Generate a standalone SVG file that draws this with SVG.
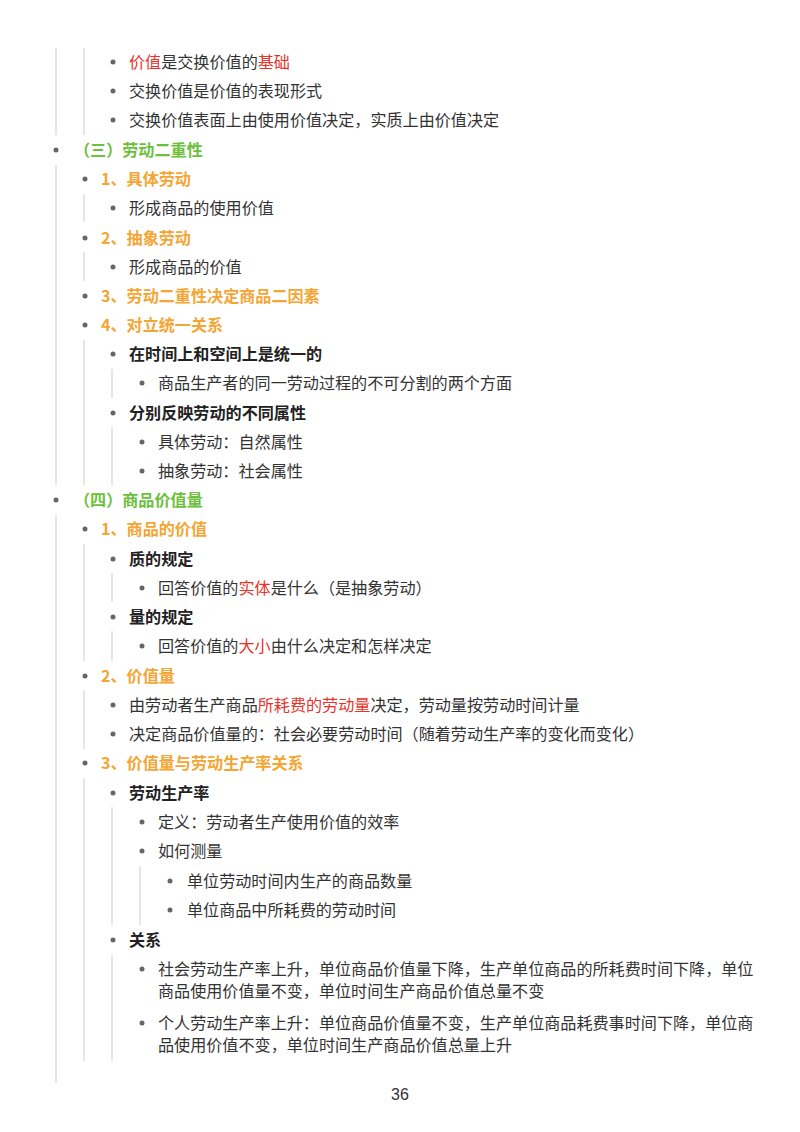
<svg xmlns="http://www.w3.org/2000/svg" width="800" height="1132" viewBox="0 0 800 1132">
<style>
text{font-family:"Noto Sans CJK SC","Liberation Sans",sans-serif;font-size:16.1px;fill:#333}
.g{fill:#6cc03c;font-weight:bold}.o{fill:#f5a533;font-weight:bold}.b{font-weight:bold;fill:#222}.r{fill:#e8332b}
line{stroke:#dedede;stroke-width:1.5}
circle{fill:#666}
</style>
<rect width="800" height="1132" fill="#fff"/>
<g id="connectors">
<line x1="56" y1="48" x2="56" y2="135"/><line x1="84" y1="48" x2="84" y2="135"/>
<line x1="56" y1="165" x2="56" y2="485"/>
<line x1="84" y1="194" x2="84" y2="222"/><line x1="84" y1="252" x2="84" y2="281"/>
<line x1="84" y1="340" x2="84" y2="485"/>
<line x1="112" y1="369" x2="112" y2="398"/><line x1="112" y1="427" x2="112" y2="485"/>
<line x1="56" y1="515" x2="56" y2="1083"/>
<line x1="84" y1="544" x2="84" y2="661"/>
<line x1="112" y1="573" x2="112" y2="602"/><line x1="112" y1="631" x2="112" y2="661"/>
<line x1="84" y1="690" x2="84" y2="749"/><line x1="84" y1="778" x2="84" y2="1061"/>
<line x1="112" y1="807" x2="112" y2="925"/><line x1="140" y1="866" x2="140" y2="925"/>
<line x1="112" y1="955" x2="112" y2="1061"/>
</g>
<g id="n1"><circle cx="113" cy="62" r="2.5"/><text x="129" y="68"><tspan class="r">价值</tspan>是交换价值的<tspan class="r">基础</tspan></text></g>
<g id="n2"><circle cx="113" cy="91" r="2.5"/><text x="129" y="97">交换价值是价值的表现形式</text></g>
<g id="n3"><circle cx="113" cy="120" r="2.5"/><text x="129" y="126">交换价值表面上由使用价值决定，实质上由价值决定</text></g>
<g id="n4"><circle cx="56" cy="150" r="2.5"/><text class="g" x="74" y="156">（三）劳动二重性</text></g>
<g id="n5"><circle cx="85" cy="179" r="2.5"/><text class="o" x="101" y="185">1、具体劳动</text></g>
<g id="n6"><circle cx="113" cy="208" r="2.5"/><text x="129" y="214">形成商品的使用价值</text></g>
<g id="n7"><circle cx="85" cy="238" r="2.5"/><text class="o" x="101" y="244">2、抽象劳动</text></g>
<g id="n8"><circle cx="113" cy="267" r="2.5"/><text x="129" y="273">形成商品的价值</text></g>
<g id="n9"><circle cx="85" cy="296" r="2.5"/><text class="o" x="101" y="302">3、劳动二重性决定商品二因素</text></g>
<g id="n10"><circle cx="85" cy="325" r="2.5"/><text class="o" x="101" y="331">4、对立统一关系</text></g>
<g id="n11"><circle cx="113" cy="354" r="2.5"/><text class="b" x="129" y="360">在时间上和空间上是统一的</text></g>
<g id="n12"><circle cx="142" cy="383" r="2.5"/><text x="158" y="389">商品生产者的同一劳动过程的不可分割的两个方面</text></g>
<g id="n13"><circle cx="113" cy="413" r="2.5"/><text class="b" x="129" y="419">分别反映劳动的不同属性</text></g>
<g id="n14"><circle cx="142" cy="442" r="2.5"/><text x="158" y="448">具体劳动：自然属性</text></g>
<g id="n15"><circle cx="142" cy="471" r="2.5"/><text x="158" y="477">抽象劳动：社会属性</text></g>
<g id="n16"><circle cx="56" cy="500" r="2.5"/><text class="g" x="74" y="506">（四）商品价值量</text></g>
<g id="n17"><circle cx="85" cy="529" r="2.5"/><text class="o" x="101" y="535">1、商品的价值</text></g>
<g id="n18"><circle cx="113" cy="559" r="2.5"/><text class="b" x="129" y="565">质的规定</text></g>
<g id="n19"><circle cx="142" cy="588" r="2.5"/><text x="158" y="594">回答价值的<tspan class="r">实体</tspan>是什么（是抽象劳动）</text></g>
<g id="n20"><circle cx="113" cy="617" r="2.5"/><text class="b" x="129" y="623">量的规定</text></g>
<g id="n21"><circle cx="142" cy="646" r="2.5"/><text x="158" y="652">回答价值的<tspan class="r">大小</tspan>由什么决定和怎样决定</text></g>
<g id="n22"><circle cx="85" cy="676" r="2.5"/><text class="o" x="101" y="682">2、价值量</text></g>
<g id="n23"><circle cx="113" cy="705" r="2.5"/><text x="129" y="711">由劳动者生产商品<tspan class="r">所耗费的劳动量</tspan>决定，劳动量按劳动时间计量</text></g>
<g id="n24"><circle cx="113" cy="734" r="2.5"/><text x="129" y="740">决定商品价值量的：社会必要劳动时间（随着劳动生产率的变化而变化）</text></g>
<g id="n25"><circle cx="85" cy="763" r="2.5"/><text class="o" x="101" y="769">3、价值量与劳动生产率关系</text></g>
<g id="n26"><circle cx="113" cy="793" r="2.5"/><text class="b" x="129" y="799">劳动生产率</text></g>
<g id="n27"><circle cx="142" cy="822" r="2.5"/><text x="158" y="828">定义：劳动者生产使用价值的效率</text></g>
<g id="n28"><circle cx="142" cy="851" r="2.5"/><text x="158" y="857">如何测量</text></g>
<g id="n29"><circle cx="170" cy="881" r="2.5"/><text x="187" y="887">单位劳动时间内生产的商品数量</text></g>
<g id="n30"><circle cx="170" cy="910" r="2.5"/><text x="187" y="916">单位商品中所耗费的劳动时间</text></g>
<g id="n31"><circle cx="113" cy="940" r="2.5"/><text class="b" x="129" y="946">关系</text></g>
<g id="n32"><circle cx="142" cy="969" r="2.5"/><text x="158" y="975">社会劳动生产率上升，单位商品价值量下降，生产单位商品的所耗费时间下降，单位</text><text x="158" y="997">商品使用价值量不变，单位时间生产商品价值总量不变</text></g>
<g id="n33"><circle cx="142" cy="1023" r="2.5"/><text x="158" y="1029">个人劳动生产率上升：单位商品价值量不变，生产单位商品耗费事时间下降，单位商</text><text x="158" y="1051">品使用价值不变，单位时间生产商品价值总量上升</text></g>
<text x="400" y="1100" text-anchor="middle" style="font-family:'Liberation Sans',sans-serif;font-size:16px">36</text>
</svg>
